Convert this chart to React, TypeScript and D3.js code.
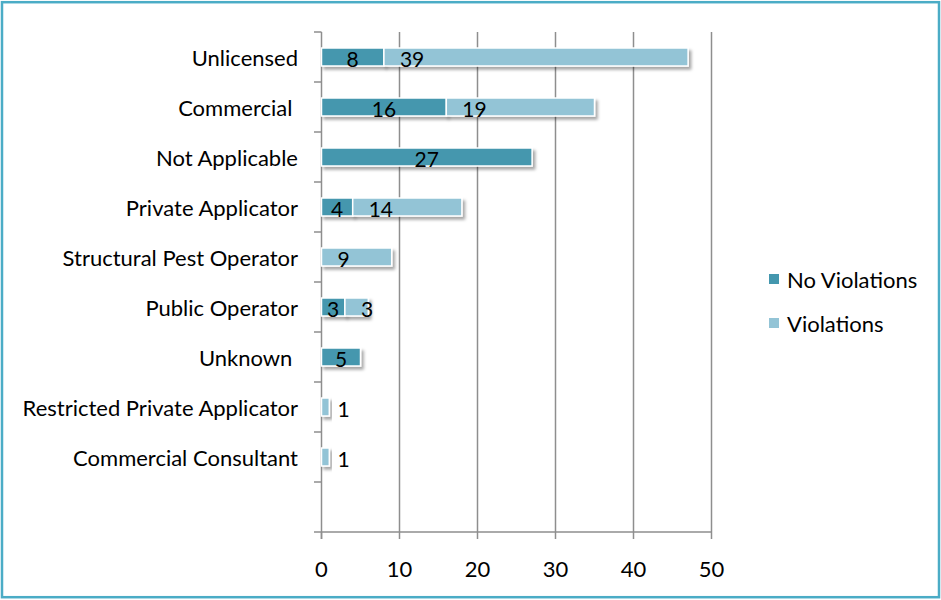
import React from "react";
import * as d3 from "d3";

const categories = [
  "Unlicensed",
  "Commercial ",
  "Not Applicable",
  "Private Applicator",
  "Structural Pest Operator",
  "Public Operator",
  "Unknown ",
  "Restricted Private Applicator",
  "Commercial Consultant",
  "",
];
const noViolations = [8, 16, 27, 4, 0, 3, 5, 0, 0, 0];
const violations = [39, 19, 0, 14, 9, 3, 0, 1, 1, 0];
const xTicks = [0, 10, 20, 30, 40, 50];
const seriesNames = ["No Violations", "Violations"];
const colors = ["#4497AE", "#93C4D6"];

const W = 941;
const H = 600;
const FONT = "Lato, 'Open Sans', sans-serif";

export default function App() {
  const x = d3.scaleLinear().domain([0, 50]).range([321.5, 711.5]);
  const band = d3.scaleBand<string>().domain(categories.map((c, i) => i + "")).range([32, 532]);
  const bh = 18;

  return (
    <svg width={W} height={H} style={{ position: "absolute", left: 0, top: 0, background: "#fff" }} fontFamily={FONT}>
      <defs>
        <filter id="sh" x="-20%" y="-50%" width="150%" height="250%">
          <feDropShadow dx="2.5" dy="3" stdDeviation="1.8" floodColor="#000" floodOpacity="0.35" />
        </filter>
      </defs>
      <rect x={2} y={2.2} width={937} height={595} fill="#fff" stroke="#4BACC6" strokeWidth={2.5} />
      {/* gridlines */}
      {xTicks.slice(1).map((t) => (
        <line key={"g" + t} x1={x(t)} x2={x(t)} y1={32} y2={532} stroke="#8e8e8e" strokeWidth={1.5} />
      ))}
      {/* x axis */}
      <line x1={314} x2={x(50)} y1={532} y2={532} stroke="#8e8e8e" strokeWidth={1.5} />
      {xTicks.map((t) => (
        <g key={"t" + t}>
          <line x1={x(t)} x2={x(t)} y1={532} y2={539} stroke="#8e8e8e" strokeWidth={1.5} />
          <text x={x(t)} y={568} textAnchor="middle" dominantBaseline="central" fontSize={22} fill="#000">
            {t}
          </text>
        </g>
      ))}
      {/* y axis */}
      <line x1={x(0)} x2={x(0)} y1={32} y2={539} stroke="#8e8e8e" strokeWidth={1.5} />
      {categories.map((c, i) => (
        <line key={"yt" + i} x1={314} x2={x(0)} y1={band(i + "")!} y2={band(i + "")!} stroke="#8e8e8e" strokeWidth={1.5} />
      ))}
      {/* category labels */}
      {categories.map((c, i) => (
        <text
          key={"c" + i}
          x={298}
          y={band(i + "")! + band.bandwidth() / 2}
          textAnchor="end"
          dominantBaseline="central"
          fontSize={22}
          fill="#000"
          style={{ whiteSpace: "pre" }}
        >
          {c}
        </text>
      ))}
      {/* bars */}
      {categories.map((c, i) => {
        const cy = band(i + "")! + band.bandwidth() / 2;
        const nv = noViolations[i];
        const v = violations[i];
        return (
          <g key={"b" + i}>
            {nv > 0 && (
              <rect x={x(0)} y={cy - bh / 2} width={x(nv) - x(0)} height={bh} fill={colors[0]} stroke="#fff" strokeWidth={1.5} filter="url(#sh)" />
            )}
            {v > 0 && (
              <rect x={x(nv)} y={cy - bh / 2} width={x(nv + v) - x(nv)} height={bh} fill={colors[1]} stroke="#fff" strokeWidth={1.5} filter="url(#sh)" />
            )}
          </g>
        );
      })}
      {/* data labels */}
      {categories.map((c, i) => {
        const cy = band(i + "")! + band.bandwidth() / 2;
        const nv = noViolations[i];
        const v = violations[i];
        return (
          <g key={"l" + i}>
            {nv > 0 && (
              <text x={(x(0) + x(nv)) / 2} y={cy + 1} textAnchor="middle" dominantBaseline="central" fontSize={21} fill="#000">
                {nv}
              </text>
            )}
            {v > 0 && (
              <text x={x(nv) + 16} y={cy + 1} textAnchor="start" dominantBaseline="central" fontSize={21} fill="#000">
                {v}
              </text>
            )}
          </g>
        );
      })}
      {/* legend */}
      {seriesNames.map((s, i) => (
        <g key={"lg" + i}>
          <rect x={769} y={274 + i * 44} width={10} height={10} fill={colors[i]} />
          <text x={787} y={279 + i * 44} dominantBaseline="central" fontSize={22} fill="#000">
            {s}
          </text>
        </g>
      ))}
    </svg>
  );
}
